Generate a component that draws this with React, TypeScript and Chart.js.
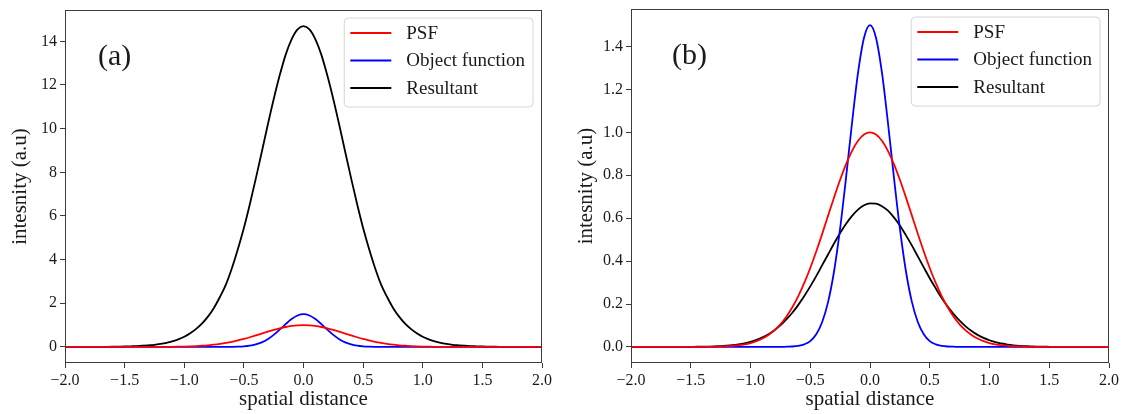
import React, { useEffect, useRef } from "react";
import { Chart, registerables } from "chart.js";

Chart.register(...registerables);

// spatial distance grid
const X = [
  -2.0, -1.95, -1.9, -1.85, -1.8, -1.75, -1.7, -1.65, -1.6, -1.55,
  -1.5, -1.45, -1.4, -1.35, -1.3, -1.25, -1.2, -1.15, -1.1, -1.05,
  -1.0, -0.95, -0.9, -0.85, -0.8, -0.75, -0.7, -0.65, -0.6, -0.55,
  -0.5, -0.45, -0.4, -0.35, -0.3, -0.25, -0.2, -0.15, -0.1, -0.05,
  0.0,
  0.05, 0.1, 0.15, 0.2, 0.25, 0.3, 0.35, 0.4, 0.45, 0.5,
  0.55, 0.6, 0.65, 0.7, 0.75, 0.8, 0.85, 0.9, 0.95, 1.0,
  1.05, 1.1, 1.15, 1.2, 1.25, 1.3, 1.35, 1.4, 1.45, 1.5,
  1.55, 1.6, 1.65, 1.7, 1.75, 1.8, 1.85, 1.9, 1.95, 2.0,
];

// PSF (same in both panels)
const PSF = [
  0, 0, 0, 0, 0, 0, 0, 0, 0, 0,
  0, 0, 0, 0, 0.001, 0.002, 0.003, 0.005, 0.008, 0.012,
  0.018, 0.027, 0.039, 0.056, 0.077, 0.105, 0.141, 0.185, 0.237, 0.298,
  0.368, 0.445, 0.527, 0.613, 0.698, 0.779, 0.852, 0.914, 0.961, 0.99,
  1.0,
  0.99, 0.961, 0.914, 0.852, 0.779, 0.698, 0.613, 0.527, 0.445, 0.368,
  0.298, 0.237, 0.185, 0.141, 0.105, 0.077, 0.056, 0.039, 0.027, 0.018,
  0.012, 0.008, 0.005, 0.003, 0.002, 0.001, 0, 0, 0, 0,
  0, 0, 0, 0, 0, 0, 0, 0, 0, 0,
];

// Object function (same in both panels)
const OBJECT_FN = [
  0, 0, 0, 0, 0, 0, 0, 0, 0, 0,
  0, 0, 0, 0, 0, 0, 0, 0, 0, 0,
  0, 0, 0, 0, 0, 0, 0.001, 0.002, 0.005, 0.012,
  0.027, 0.059, 0.116, 0.211, 0.355, 0.552, 0.791, 1.046, 1.278, 1.441,
  1.5,
  1.441, 1.278, 1.046, 0.791, 0.552, 0.355, 0.211, 0.116, 0.059, 0.027,
  0.012, 0.005, 0.002, 0.001, 0, 0, 0, 0, 0, 0,
  0, 0, 0, 0, 0, 0, 0, 0, 0, 0,
  0, 0, 0, 0, 0, 0, 0, 0, 0, 0,
];

// Resultant, panel (a)
const RESULTANT_A = [
  0, 0, 0.001, 0.001, 0.002, 0.003, 0.005, 0.007, 0.01, 0.015,
  0.02, 0.03, 0.04, 0.055, 0.075, 0.1, 0.14, 0.19, 0.26, 0.35,
  0.47, 0.63, 0.83, 1.08, 1.4, 1.8, 2.3, 2.87, 3.62, 4.49,
  5.45, 6.54, 7.71, 8.93, 10.17, 11.35, 12.43, 13.38, 14.09, 14.55,
  14.7,
  14.55, 14.09, 13.38, 12.43, 11.35, 10.17, 8.93, 7.71, 6.54, 5.45,
  4.49, 3.62, 2.87, 2.3, 1.8, 1.4, 1.08, 0.83, 0.63, 0.47,
  0.35, 0.26, 0.19, 0.14, 0.1, 0.075, 0.055, 0.04, 0.03, 0.02,
  0.015, 0.01, 0.007, 0.005, 0.003, 0.002, 0.001, 0.001, 0, 0,
];

// Resultant, panel (b)
const RESULTANT_B = [
  0, 0, 0, 0, 0, 0, 0, 0, 0, 0,
  0, 0.001, 0.001, 0.0015, 0.0025, 0.004, 0.0055, 0.008, 0.012, 0.017,
  0.024, 0.033, 0.045, 0.059, 0.078, 0.1, 0.128, 0.159, 0.196, 0.237,
  0.282, 0.33, 0.381, 0.432, 0.483, 0.531, 0.574, 0.611, 0.64, 0.66,
  0.669,
  0.668, 0.656, 0.635, 0.604, 0.566, 0.521, 0.473, 0.422, 0.371, 0.32,
  0.273, 0.228, 0.188, 0.153, 0.122, 0.096, 0.074, 0.056, 0.042, 0.031,
  0.022, 0.016, 0.011, 0.0075, 0.005, 0.0035, 0.002, 0.0013, 0.001, 0.0005,
  0, 0, 0, 0, 0, 0, 0, 0, 0, 0,
];

const SERIES_LABELS = ["PSF", "Object function", "Resultant"];
const SERIES_COLORS = ["#ff0000", "#0000ff", "#000000"];

const X_TITLE = "spatial distance";
const Y_TITLE = "intesnity (a.u)";

const SERIF = '"Liberation Serif", "Times New Roman", serif';
const TEXT_COLOR = "#1a1a1a";
const FRAME_COLOR = "#3c3c3c";

type PanelProps = {
  left: number;
  width: number;
  tag: string;
  tagDx: number;
  resultant: number[];
  yMin: number;
  yMax: number;
  yStep: number;
  yDecimals: number;
  padTop: number;
  padRight: number;
  yTitlePad: number;
};

function roundRectPath(ctx: CanvasRenderingContext2D, x: number, y: number, w: number, h: number, r: number) {
  ctx.beginPath();
  ctx.moveTo(x + r, y);
  ctx.lineTo(x + w - r, y);
  ctx.arcTo(x + w, y, x + w, y + r, r);
  ctx.lineTo(x + w, y + h - r);
  ctx.arcTo(x + w, y + h, x + w - r, y + h, r);
  ctx.lineTo(x + r, y + h);
  ctx.arcTo(x, y + h, x, y + h - r, r);
  ctx.lineTo(x, y + r);
  ctx.arcTo(x, y, x + r, y, r);
  ctx.closePath();
}

function Panel(p: PanelProps) {
  const ref = useRef<HTMLCanvasElement | null>(null);

  useEffect(() => {
    if (!ref.current) return;
    const seriesData = [PSF, OBJECT_FN, p.resultant];

    const decorPlugin = {
      id: "decor" + p.tag,
      afterDatasetsDraw(chart: any) {
        const ctx: CanvasRenderingContext2D = chart.ctx;
        const ca = chart.chartArea;
        ctx.save();
        // frame
        ctx.strokeStyle = FRAME_COLOR;
        ctx.lineWidth = 1;
        ctx.strokeRect(Math.round(ca.left) + 0.5, Math.round(ca.top) + 0.5,
          Math.round(ca.right - ca.left) - 1, Math.round(ca.bottom - ca.top) - 1);

        // panel tag
        ctx.fillStyle = TEXT_COLOR;
        ctx.font = `30px ${SERIF}`;
        ctx.textAlign = "left";
        ctx.textBaseline = "alphabetic";
        ctx.fillText(p.tag, ca.left + p.tagDx, ca.top + 55);

        // legend
        ctx.font = `19px ${SERIF}`;
        let tw = 0;
        for (const l of SERIES_LABELS) tw = Math.max(tw, ctx.measureText(l).width);
        const boxW = 62 + tw + 8;
        const boxH = 89;
        const boxR = ca.right - 9;
        const boxL = boxR - boxW;
        const boxT = ca.top + 8;
        roundRectPath(ctx, boxL, boxT, boxW, boxH, 4);
        ctx.fillStyle = "rgba(255,255,255,0.85)";
        ctx.fill();
        ctx.strokeStyle = "#d6d6d6";
        ctx.lineWidth = 1;
        ctx.stroke();
        const rows = [15, 42.5, 70];
        SERIES_LABELS.forEach((label, i) => {
          const yy = boxT + rows[i];
          ctx.strokeStyle = SERIES_COLORS[i];
          ctx.lineWidth = 1.8;
          ctx.beginPath();
          ctx.moveTo(boxL + 6, yy);
          ctx.lineTo(boxL + 47, yy);
          ctx.stroke();
          ctx.fillStyle = TEXT_COLOR;
          ctx.textBaseline = "middle";
          ctx.fillText(label, boxL + 62, yy + 1);
        });
        ctx.restore();
      },
    };

    const chart = new Chart(ref.current, {
      type: "line",
      data: {
        datasets: SERIES_LABELS.map((label, i) => ({
          label,
          data: X.map((x, k) => ({ x, y: seriesData[i][k] })),
          borderColor: SERIES_COLORS[i],
          backgroundColor: SERIES_COLORS[i],
          borderWidth: 1.8,
          pointRadius: 0,
          fill: false,
          cubicInterpolationMode: "monotone" as const,
        })),
      },
      options: {
        animation: false,
        responsive: true,
        maintainAspectRatio: false,
        layout: { padding: { top: p.padTop, right: p.padRight, left: 0, bottom: 0 } },
        plugins: {
          legend: { display: false },
          tooltip: { enabled: false },
        },
        scales: {
          x: {
            type: "linear",
            min: -2,
            max: 2,
            border: { display: false },
            grid: { display: true, drawOnChartArea: false, drawTicks: true, tickLength: 5, color: FRAME_COLOR },
            ticks: {
              stepSize: 0.5,
              autoSkip: false,
              maxRotation: 0,
              minRotation: 0,
              padding: 3,
              color: TEXT_COLOR,
              font: { family: SERIF, size: 16 },
              callback: (v: any) => Number(v).toFixed(1).replace("-", "\u2212"),
            },
            title: {
              display: true,
              text: X_TITLE,
              color: TEXT_COLOR,
              font: { family: SERIF, size: 21 },
              padding: { top: 0, bottom: 2 },
            },
            afterFit: (s: any) => { s.height = 51; s.paddingLeft = 0; s.paddingRight = 0; },
          },
          y: {
            type: "linear",
            min: p.yMin,
            max: p.yMax,
            border: { display: false },
            grid: { display: true, drawOnChartArea: false, drawTicks: true, tickLength: 5, color: FRAME_COLOR },
            ticks: {
              stepSize: p.yStep,
              includeBounds: false,
              autoSkip: false,
              padding: 3,
              color: TEXT_COLOR,
              font: { family: SERIF, size: 16 },
              callback: (v: any) => Number(v).toFixed(p.yDecimals).replace("-", "\u2212"),
            },
            title: {
              display: true,
              text: Y_TITLE,
              color: TEXT_COLOR,
              font: { family: SERIF, size: 21 },
              padding: { top: p.yTitlePad, bottom: 0 },
            },
            afterFit: (s: any) => { s.width = 65; s.paddingTop = 0; s.paddingBottom = 0; },
          },
        },
      },
      plugins: [decorPlugin],
    } as any);

    return () => chart.destroy();
  }, []);

  return (
    <div style={{ position: "absolute", left: p.left, top: 0, width: p.width, height: 414 }}>
      <canvas ref={ref} />
    </div>
  );
}

export default function App() {
  return (
    <div style={{ position: "absolute", left: 0, top: 0, width: 1121, height: 414, background: "#fff" }}>
      <Panel left={0} width={566} tag="(a)" tagDx={33} resultant={RESULTANT_A}
        yMin={-0.735} yMax={15.435} yStep={2} yDecimals={0} padTop={10} padRight={24} yTitlePad={8} />
      <Panel left={566} width={555} tag="(b)" tagDx={41} resultant={RESULTANT_B}
        yMin={-0.075} yMax={1.575} yStep={0.2} yDecimals={1} padTop={9} padRight={12} yTitlePad={8} />
    </div>
  );
}
